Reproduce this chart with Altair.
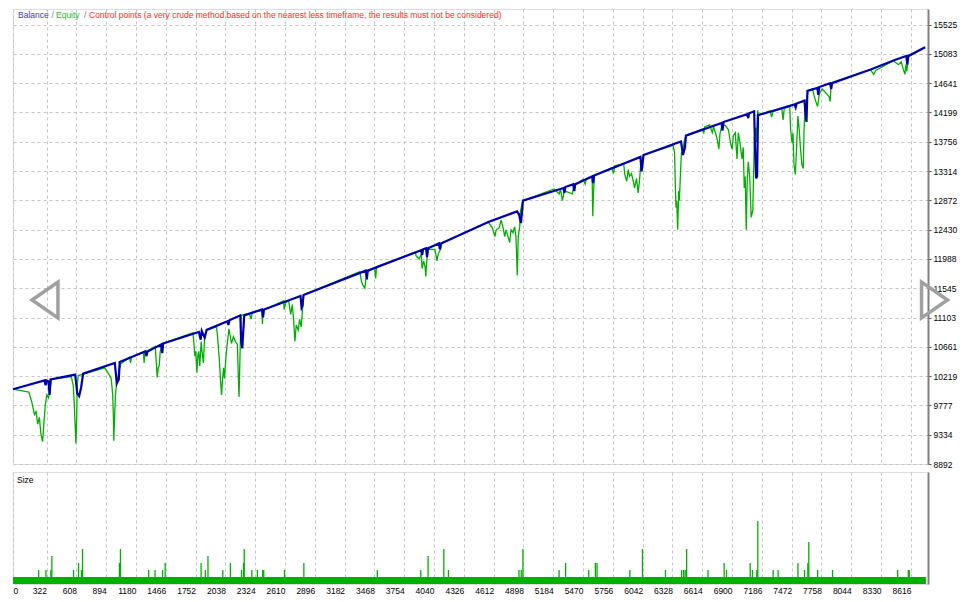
import altair as alt
import pandas as pd

# ---------------- data ----------------
# balance curve: trade number -> account balance
bal_x = [0, 303, 313, 322, 341, 351, 360,
         597, 616, 635, 654, 673,
         977, 996, 1015, 1024,
         1271, 1280, 1290,
         1422, 1432, 1441,
         1783, 1801, 1811, 1839, 1858,
         2058, 2067, 2077,
         2181, 2190, 2200, 2209, 2219,
         2389, 2399, 2408,
         2759, 2769, 2778, 2788,
         3385, 3395, 3404,
         3916, 3926, 3935, 3964, 3973, 3983,
         4087, 4096, 4106,
         4561, 4836, 4855, 4874, 4884, 4893,
         5281, 5291, 5300, 5376, 5386, 5395,
         5557, 5566, 5576,
         6021, 6031, 6040, 6050,
         6410, 6429, 6448, 6457,
         6799, 6808, 6818,
         7045, 7055, 7064, 7112, 7121, 7131, 7140, 7149,
         7500, 7510, 7519, 7595, 7604, 7614, 7623,
         7718, 7727, 7737, 7841, 7851, 7860,
         8230, 8467, 8572, 8581, 8591, 8752]
bal_y = [10021, 10153, 10080, 10153, 10139, 9933, 10168,
         10241, 9963, 9919, 10051, 10256,
         10417, 10109, 10168, 10432,
         10593, 10520, 10588,
         10696, 10564, 10711,
         10887, 10769, 10901, 10799, 10916,
         11048, 10989, 11063,
         11136, 10740, 10637, 10887, 11136,
         11224, 11107, 11224,
         11429, 11253, 11283, 11444,
         11811, 11679, 11811,
         12119, 12045, 12133, 12148, 12016, 12148,
         12221, 12133, 12221,
         12544, 12705, 12661, 12529, 12691, 12867,
         13057, 12984, 13072, 13116, 13013, 13116,
         13233, 13131, 13248,
         13527, 13307, 13409, 13556,
         13761, 13556, 13673, 13849,
         14040, 13923, 14055,
         14172, 14113, 14187, 14216, 13600, 13204, 13233, 14157,
         14319, 14275, 14333, 14377, 14187, 14055, 14524,
         14568, 14465, 14583, 14641, 14553, 14641,
         14847, 14993, 15052, 14920, 15052, 15184]

# equity curve: trade number -> equity
eq_x = [0, 152, 180, 206, 221, 237, 253, 268, 284, 294, 310, 325, 341, 351, 370,
        559, 578, 588, 597, 604, 612, 616, 626,
        879, 910, 942, 957, 964, 967, 976, 983, 995, 1014, 1033,
        1119, 1128, 1138,
        1252, 1258, 1266,
        1365, 1384, 1394, 1403, 1413, 1432,
        1726, 1735, 1745, 1754, 1764, 1773, 1782, 1792, 1806, 1811, 1827, 1839, 1858,
        1953, 1963, 1982, 1991, 2001, 2010, 2020, 2029, 2044, 2058, 2072, 2086, 2096,
        2115, 2134, 2153, 2162, 2169, 2176, 2185, 2190,
        2266, 2285, 2295,
        2389, 2394, 2399,
        2598, 2601, 2617, 2645, 2665, 2680, 2693, 2705, 2718, 2737, 2750, 2766, 2776, 2788,
        3328, 3344, 3357, 3376, 3385, 3404,
        3470, 3480, 3489,
        3859, 3869, 3897, 3916, 3926, 3940, 3954, 3961, 3970, 3983,
        4049, 4068, 4078, 4087, 4103, 4115,
        4561, 4599, 4624, 4637, 4665, 4684, 4703, 4719, 4731, 4750, 4766, 4779, 4798,
        4814, 4826, 4839, 4848, 4862, 4871, 4893,
        5193, 5241, 5253, 5272, 5291, 5367, 5381,
        5471, 5490, 5500,
        5557, 5563, 5571, 5580,
        5746, 5762, 5775,
        5860, 5870, 5889, 5904, 5916, 5935, 5952, 5964, 5983, 5999, 6011, 6021, 6050,
        6334, 6348, 6356, 6362, 6369, 6378, 6388, 6394, 6403, 6414, 6426, 6438, 6457,
        6618, 6628, 6637,
        6684, 6710, 6723, 6758, 6773, 6784, 6799, 6818,
        6837, 6865, 6884, 6900, 6912, 6931, 6947, 6960, 6979, 6995, 7007, 7017, 7026,
        7036, 7045, 7055, 7069, 7083, 7099, 7107, 7114, 7126, 7135, 7145, 7154,
        7263, 7279, 7291,
        7377, 7389, 7401,
        7453, 7462, 7475, 7484, 7494, 7507, 7519, 7532, 7543, 7557, 7570, 7583, 7590,
        7600, 7619, 7628,
        7671, 7700, 7721, 7737, 7766, 7832, 7841, 7851, 7870,
        8227, 8259, 8278, 8448, 8496, 8524, 8543, 8559, 8567, 8577, 8591, 8752]
eq_y = [10021, 9977, 9831, 9640, 9684, 9493, 9596, 9347, 9229, 9449, 9787, 9933, 9889, 9977, 10168,
        10212, 10080, 9787, 9449, 9200, 9640, 10080, 10227,
        10344, 10271, 10183, 9933, 9567, 9244, 9640, 9933, 10124, 10271, 10403,
        10505, 10417, 10505,
        10579, 10417, 10579,
        10667, 10197, 10344, 10373, 10593, 10711,
        10872, 10740, 10520, 10593, 10271, 10520, 10593, 10373, 10740, 10637, 10417, 10813, 10916,
        10960, 10813, 10417, 10153, 9933, 10153, 10344, 10183, 10520, 10740, 10931, 10813, 10711,
        10813, 10740, 10696, 10227, 9904, 10373, 10960, 11136,
        11165, 11077, 11180,
        11209, 11004, 11209,
        11356, 11224, 11327, 11356, 11151, 11297, 11063, 10740, 10989, 10916, 11077, 10960, 11180, 11444,
        11796, 11649, 11591, 11547, 11664, 11796,
        11855, 11693, 11869,
        12089, 12031, 11987, 12060, 11840, 11957, 11869, 11723, 11957, 12133,
        12133, 11957, 12045, 12089, 12133, 12221,
        12544, 12456, 12324, 12427, 12456, 12573, 12456, 12324, 12427, 12324, 12236, 12427, 12383,
        12471, 12324, 11737, 12324, 12471, 12720, 12867,
        13043, 12969, 13043, 12867, 13013, 12969, 13087,
        13189, 13116, 13189,
        13233, 12632, 13013, 13248,
        13365, 13277, 13395,
        13424, 13263, 13160, 13336, 13233, 13277, 13160, 13057, 13204, 12984, 13160, 13365, 13556,
        13703, 13600, 13057, 12764, 12867, 12427, 13013, 12867, 13204, 13600, 13556, 13747, 13849,
        13952, 13879, 13981,
        14011, 13893, 13981, 13791, 13644, 13879, 13981, 14011,
        13996, 13937, 13747, 13644, 13849, 13893, 13497, 13893, 13703, 13497, 13673, 13057, 13233,
        12427, 13160, 13453, 13233, 12617, 12720, 13307, 13820, 13967, 13747, 14231, 14157,
        14224, 14128, 14209,
        14260, 14084, 14260,
        14289, 13937, 13741, 13893, 13409, 13263, 13673, 14143, 13967, 13644, 13409, 13351, 13893,
        14333, 14407, 14524,
        14553, 14377, 14289, 14480, 14553, 14436, 14363, 14627, 14656,
        14847, 14773, 14832, 14979, 14920, 14964, 14847, 14773, 14920, 14817, 15037, 15184]

# position sizes (lots) of the larger trades
size_x = [246, 316, 363, 373, 581, 629, 657, 667, 1021, 1031, 1302, 1363, 1435, 1460,
          1805, 1846, 1871, 2013, 2086, 2193, 2212, 2219, 2292, 2345, 2396, 2406, 2605,
          2791, 3496, 3913, 3983, 4134, 4178, 4855, 4877, 4893, 5240, 5303, 5525, 5588,
          5604, 5919, 6040, 6261, 6416, 6435, 6450, 6464, 6669, 6824, 6846, 7074, 7095,
          7137, 7147, 7294, 7342, 7532, 7595, 7627, 7636, 7721, 7864, 8489, 8591, 8600]
size_lots = [0.02, 0.02, 0.02, 0.04, 0.02, 0.03, 0.02, 0.05, 0.03, 0.05, 0.02, 0.02, 0.02, 0.03,
             0.03, 0.02, 0.04, 0.02, 0.03, 0.02, 0.03, 0.05, 0.02, 0.02, 0.02, 0.02, 0.02,
             0.03, 0.02, 0.02, 0.04, 0.05, 0.02, 0.02, 0.02, 0.05, 0.02, 0.03, 0.02, 0.03,
             0.03, 0.02, 0.05, 0.02, 0.02, 0.02, 0.02, 0.05, 0.02, 0.03, 0.02, 0.03, 0.02,
             0.02, 0.09, 0.02, 0.02, 0.03, 0.02, 0.03, 0.06, 0.02, 0.02, 0.02, 0.02, 0.02]
base_lot = 0.01
first_trade, last_trade = 0, 8760

x_ticks = [0, 322, 608, 894, 1180, 1466, 1752, 2038, 2324, 2610, 2896, 3182, 3468, 3754,
           4040, 4326, 4612, 4898, 5184, 5470, 5756, 6042, 6328, 6614, 6900, 7186, 7472,
           7758, 8044, 8330, 8616]
y_ticks = [8892, 9334, 9777, 10219, 10661, 11103, 11545, 11988, 12430, 12872, 13314,
           13756, 14199, 14641, 15083, 15525]

legend_parts = ["Balance", "/", "Equity", "/",
                "Control points (a very crude method based on the nearest less timeframe, the results must not be considered)"]
size_title = ["Size"]

# ---------------- styling ----------------
FONT = "Liberation Sans"
W, H1, H2 = 915, 455, 112
GRID = "#c4c4c4"
BLUE = "#0000aa"
GREEN = "#00b000"

xscale = alt.Scale(domain=[0, 8780], nice=False, zero=False)
yscale = alt.Scale(domain=[8892, 15760], nice=False, zero=False)

bal_df = pd.DataFrame({"i": range(len(bal_x)), "x": bal_x, "y": bal_y})
eq_df = pd.DataFrame({"i": range(len(eq_x)), "x": eq_x, "y": eq_y})

x_up = alt.X("x:Q", scale=xscale, title=None,
             axis=alt.Axis(values=x_ticks, labels=False, ticks=False, domain=False,
                           grid=True, gridDash=[3, 3], gridColor=GRID, gridWidth=1))
y_up = alt.Y("y:Q", scale=yscale, title=None,
             axis=alt.Axis(orient="right", values=y_ticks, format="d", grid=True, gridDash=[3, 3],
                           gridColor=GRID, gridWidth=1, tickSize=3, tickColor="#505050",
                           domainColor="#808080", domainWidth=2, labelFont=FONT,
                           labelFontSize=8.5, labelColor="#000000", labelPadding=2,
                           labelOverlap=False, labelFlush=False))

equity = alt.Chart(eq_df).mark_line(color=GREEN, strokeWidth=1.3, interpolate="linear").encode(
    x=x_up, y=y_up, order="i:Q")
balance = alt.Chart(bal_df).mark_line(color=BLUE, strokeWidth=2.2, interpolate="linear").encode(
    x=x_up, y=y_up, order="i:Q")

leg_x = [5, 38.5, 43, 71, 76]
leg_col = ["#3a3ab8", "#808080", "#33b033", "#808080", "#ff2a2a"]
legend_layers = []
for txt, px, col in zip(legend_parts, leg_x, leg_col):
    legend_layers.append(
        alt.Chart(pd.DataFrame({"t": [txt]})).mark_text(
            align="left", baseline="middle", font=FONT, fontSize=8.5, color=col
        ).encode(text="t:N", x=alt.value(px), y=alt.value(6))
    )

left_arrow = alt.Chart(pd.DataFrame({"a": ["prev"]})).mark_point(
    shape="M -0.72 0 L 0.72 -1 L 0.72 1 Z", size=1296, filled=False,
    stroke="#a0a0a0", strokeWidth=3.5, opacity=1
).encode(x=alt.value(32), y=alt.value(291))
right_arrow = alt.Chart(pd.DataFrame({"a": ["next"]})).mark_point(
    shape="M 0.72 0 L -0.72 -1 L -0.72 1 Z", size=1296, filled=False,
    stroke="#a0a0a0", strokeWidth=3.5, opacity=1
).encode(x=alt.value(W + 6.5), y=alt.value(291))

upper = alt.layer(equity, balance, *legend_layers, left_arrow, right_arrow).properties(
    width=W, height=H1)

# ---------------- size panel ----------------
size_df = pd.DataFrame({"x": size_x, "lots": size_lots, "y0": [0.0] * len(size_x)})
base_df = pd.DataFrame({"x": [first_trade], "x2": [last_trade], "lots": [base_lot], "y0": [0.0]})

x_low = alt.X("x:Q", scale=xscale, title=None,
              axis=alt.Axis(values=x_ticks, format="d", grid=True, gridDash=[3, 3], gridColor=GRID,
                            gridWidth=1, ticks=False, domain=False, labelFont=FONT,
                            labelFontSize=8.5, labelColor="#000000", labelPadding=2,
                            labelOverlap=False, labelFlush=False,
                            labelAlign={"condition": {"test": "datum.value == 0", "value": "left"},
                                        "value": "right"}))
y_low = alt.Y("lots:Q", scale=alt.Scale(domain=[0, 0.16], nice=False), title=None,
              axis=alt.Axis(orient="right", labels=False, ticks=False, grid=False,
                            domainColor="#808080", domainWidth=2))

base_band = alt.Chart(base_df).mark_rect(color=GREEN).encode(
    x=x_low, x2="x2:Q", y=y_low, y2="y0:Q")
bars = alt.Chart(size_df).mark_rule(color=GREEN, strokeWidth=1.3).encode(
    x=x_low, y=y_low, y2="y0:Q")
size_lbl = alt.Chart(pd.DataFrame({"t": size_title})).mark_text(
    align="left", baseline="middle", font=FONT, fontSize=8.5, color="#000000"
).encode(text="t:N", x=alt.value(4), y=alt.value(8))

lower = alt.layer(base_band, bars, size_lbl).properties(width=W, height=H2)

chart = alt.vconcat(upper, lower, spacing=2, padding=0).configure_view(
    stroke="#000000", strokeWidth=1
).configure(background="#ffffff")

chart.save("out.html", embed_options={"renderer": "svg", "actions": False})
